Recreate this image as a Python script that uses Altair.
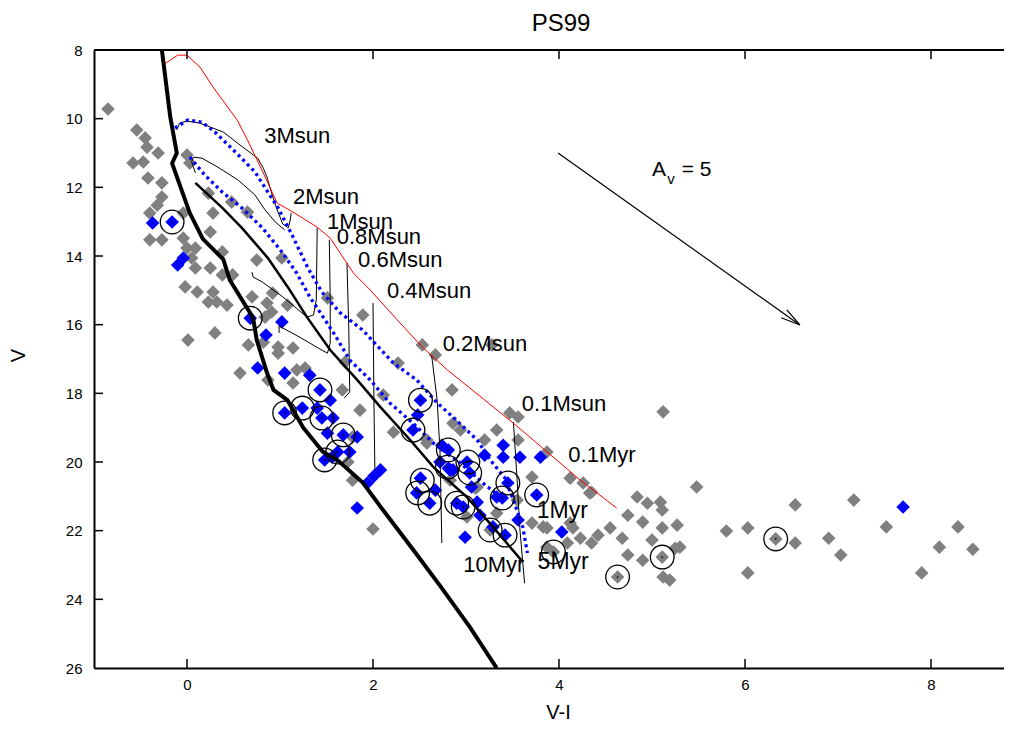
import altair as alt
import pandas as pd

# ---------------- data (V-I, V) ----------------
gray_x = [-0.85, -0.54, -0.45, -0.43, -0.31, -0.58, -0.47, -0.42, -0.27, -0.27, -0.32, -0.40, -0.40, -0.27,
          -0.04, 0.0, 0.03, 0.23, 0.28, 0.25, -0.04, 0.0, 0.09, 0.05, 0.09, 0.25, 0.38, 0.49, 0.38, -0.02,
          0.11, 0.48, 0.65, 0.75, 1.02, 0.28, 0.23, 0.32, 0.43, 0.01, 0.30, 0.70, 0.86, 0.92, 0.91, 1.08,
          0.66, 0.82, 0.98, 0.98, 1.14, 0.57, 0.87, 1.18, 1.27, 1.14, 1.67, 1.86, 1.89, 1.73, 1.51, 0.84,
          1.70, 1.78, 2.00, 2.53, 2.67, 2.27, 2.85, 2.11, 3.47, 3.56, 3.33, 3.20, 3.71, 3.87, 2.58, 2.86,
          2.94, 2.22, 3.12, 1.78, 3.28, 5.12, 3.56, 4.12, 4.35, 4.84, 4.95, 5.09, 5.11, 4.74, 4.90, 5.27,
          5.11, 4.55, 4.68, 5.00, 5.25, 4.74, 4.90, 5.11, 5.12, 5.19, 4.63, 4.35, 4.23, 4.09, 3.87, 4.15,
          4.42, 5.48, 5.80, 6.03, 6.03, 6.33, 6.54, 6.54, 6.90, 7.03, 7.17, 7.52, 7.90, 8.09, 8.29, 8.45,
          5.30, 4.26, 4.33, 3.55, 3.83, 4.12, 3.87, 3.33, 3.71, 3.10, 2.83, 3.01, 3.94, 3.26, 2.58]
gray_y = [9.72, 10.33, 10.56, 10.83, 11.00, 11.29, 11.26, 11.73, 11.87, 12.28, 12.52, 12.75, 13.53, 13.53,
          12.75, 11.06, 11.29, 12.17, 12.75, 13.30, 13.48, 13.77, 13.77, 14.06, 14.35, 14.35, 14.55, 14.55, 13.88, 14.90,
          15.05, 12.43, 12.72, 14.12, 14.06, 15.05, 15.34, 15.34, 15.43, 16.45, 16.24, 15.19, 15.37, 15.08, 15.63, 15.43,
          16.59, 16.51, 16.65, 16.83, 16.68, 17.41, 17.61, 17.32, 17.26, 17.70, 17.90, 18.49, 15.72, 20.00, 15.22, 15.78,
          17.09, 20.53, 21.95, 16.59, 16.88, 17.12, 17.90, 18.05, 18.57, 18.69, 19.07, 19.36, 20.44, 19.71, 19.36, 18.87,
          19.07, 19.13, 20.73, 19.27, 16.59, 18.54, 19.36, 20.47, 20.88, 21.02, 21.20, 21.17, 21.40, 21.55, 21.75, 21.84,
          21.92, 21.92, 22.22, 22.27, 22.51, 22.71, 22.86, 22.77, 23.35, 23.44, 23.35, 22.36, 22.22, 22.36, 21.92, 21.92,
          22.13, 20.73, 22.01, 21.92, 23.23, 22.24, 21.25, 22.36, 22.22, 22.71, 21.11, 21.89, 23.23, 22.48, 21.89, 22.54,
          22.48, 20.61, 20.90, 21.11, 21.89, 21.78, 22.48, 21.49, 21.78, 20.76, 20.53, 21.60, 22.62, 21.98, 19.45]

blue_x = [-0.37, -0.16, -0.10, -0.04, 0.68, 1.02, 0.85, 0.76, 1.05, 1.32, 1.43, 1.54, 1.24, 1.05, 1.40,
          1.45, 1.57, 1.51, 1.68, 1.83, 1.75, 1.62, 1.48, 1.56, 1.94, 2.01, 2.08, 1.83, 2.51, 2.48, 2.43,
          2.74, 2.81, 2.72, 2.83, 3.01, 3.40, 3.58, 3.40, 2.51, 2.47, 2.61, 2.81, 2.86, 3.04, 2.90, 2.97,
          3.12, 3.45, 3.39, 3.76, 3.56, 3.42, 3.15, 3.29, 2.99, 4.03, 3.80, 7.70, 3.06, 2.67, 3.20, 3.33]
blue_y = [13.04, 13.01, 14.26, 14.06, 15.81, 15.92, 16.30, 17.26, 17.41, 17.47, 17.90, 18.20, 18.43, 18.57, 18.43,
          18.72, 18.72, 19.16, 19.21, 19.27, 19.71, 19.71, 19.94, 19.86, 20.61, 20.41, 20.23, 21.34, 18.20, 18.63, 19.07,
          19.51, 19.65, 20.00, 20.23, 20.00, 19.51, 19.86, 19.86, 20.47, 20.90, 21.20, 20.18, 20.23, 20.32, 21.20, 21.31,
          21.17, 20.61, 21.05, 20.96, 21.69, 22.13, 21.55, 21.89, 22.19, 22.04, 19.86, 21.31, 20.73, 20.82, 19.80, 21.02]

circ_x = [-0.16, 0.68, 1.43, 1.24, 1.05, 1.45, 1.68, 1.62, 1.48, 2.51, 2.43, 2.81, 2.80, 3.02, 3.04,
          2.53, 2.48, 2.61, 2.90, 2.97, 3.45, 3.39, 3.76, 3.26, 3.42, 3.94, 4.63, 5.11, 6.33]
circ_y = [13.01, 15.81, 17.90, 18.43, 18.57, 18.72, 19.21, 19.71, 19.94, 18.20, 19.07, 19.65, 20.15, 20.00, 20.32,
          20.53, 20.90, 21.20, 21.20, 21.31, 20.61, 21.05, 20.96, 21.98, 22.13, 22.62, 23.35, 22.77, 22.24]

# ZAMS (thick black)
zams_x = [-0.27, -0.18, -0.11, -0.16, 0.03, 0.17, 0.39, 0.46, 0.71, 0.75, 0.86, 0.93, 1.08, 1.25, 1.46,
          1.62, 1.89, 2.08, 2.43, 2.72, 3.04, 3.33]
zams_y = [8.0, 9.95, 11.0, 11.3, 12.75, 13.5, 14.1, 14.7, 15.8, 16.45, 17.4, 17.9, 18.2, 19.0, 19.7,
          19.95, 20.6, 21.3, 22.55, 23.6, 24.8, 26.0]
# 0.1 Myr isochrone (red)
iso01_x = [-0.26, -0.10, 0.0, 0.14, 0.28, 0.54, 0.65, 0.82, 0.97, 1.14, 1.40, 1.54, 1.79, 1.97, 2.26,
           2.53, 2.80, 3.51, 4.23, 4.62]
iso01_y = [8.44, 8.15, 8.15, 8.50, 9.08, 10.04, 10.62, 11.58, 12.46, 12.72, 13.16, 13.48, 14.50, 14.99, 15.86,
           16.65, 17.32, 18.87, 20.53, 21.34]
# dotted blue isochrones
isoA_x = [-0.13, 0.01, 0.16, 0.30, 0.52, 0.73, 0.87, 0.98, 1.13, 1.30, 1.45, 1.65, 1.89, 2.22, 2.47,
          2.69, 2.86, 3.12, 3.26, 3.42, 3.51, 3.61, 3.66]
isoA_y = [10.27, 10.04, 10.10, 10.39, 10.97, 11.55, 12.14, 12.60, 13.39, 14.35, 15.05, 15.66, 16.16, 17.12, 17.61,
          18.28, 18.69, 19.36, 19.94, 20.47, 21.11, 21.89, 22.65]
isoB_x = [0.03, 0.19, 0.38, 0.59, 0.81, 1.02, 1.18, 1.32, 1.45, 1.59, 1.75, 1.97, 2.18, 2.43, 2.65,
          2.94, 3.18, 3.37]
isoB_y = [11.12, 11.64, 12.14, 12.60, 13.18, 13.88, 14.50, 15.19, 15.72, 16.30, 17.03, 17.61, 18.28, 18.87, 19.45,
          20.03, 20.61, 21.02]
# medium black isochrone
iso5_x = [0.09, 0.38, 0.59, 0.87, 1.09, 1.29, 1.54, 1.83, 2.08, 2.40, 2.65, 3.01, 3.29, 3.61]
iso5_y = [11.87, 12.60, 13.18, 14.06, 14.93, 15.78, 16.74, 17.61, 18.40, 19.36, 20.15, 21.02, 21.89, 22.91]

# evolutionary tracks (thin black)
tracks = {
    "3": ([-0.11, -0.08, 0.0, 0.14, 0.39, 0.60, 0.76, 0.82, 0.86, 0.91, 0.97, 1.03, 1.09, 1.11, 1.12],
          [10.33, 10.13, 10.07, 10.13, 10.39, 10.83, 11.15, 11.44, 11.70, 12.17, 12.66, 13.07, 13.18, 12.95, 12.75]),
    "2": ([0.09, 0.05, 0.07, 0.16, 0.33, 0.55, 0.73, 0.84, 0.95, 1.05],
          [11.58, 11.26, 11.12, 11.15, 11.41, 11.79, 12.22, 12.66, 13.01, 13.24]),
    "1": ([1.40, 1.39, 1.36, 1.29, 1.03, 0.81, 0.71, 0.70],
          [13.18, 15.28, 15.72, 15.78, 15.19, 14.76, 14.61, 14.47]),
    "0.8": ([1.53, 1.54, 1.54, 1.51, 1.41, 1.19, 0.99, 0.99],
            [13.53, 15.28, 16.53, 16.83, 16.68, 16.33, 16.04, 16.24]),
    "0.6": ([1.72, 1.74, 1.75, 1.69], [14.20, 16.16, 17.96, 18.14]),
    "0.4": ([2.00, 2.01, 2.02], [15.37, 18.20, 20.23]),
    "0.2": ([2.63, 2.69, 2.72, 2.74], [16.88, 18.20, 19.65, 22.36]),
    "0.1": ([3.51, 3.55, 3.58, 3.63], [18.84, 20.53, 21.98, 23.53]),
}

# extinction vector A_V = 5
arrow_x = [3.99, 6.59]
arrow_y = [11.00, 16.01]
head_x = [6.45, 6.59, 6.39]
head_y = [15.57, 16.01, 15.80]

lab_text = ["3Msun", "2Msun", "1Msun", "0.8Msun", "0.6Msun", "0.4Msun", "0.2Msun", "0.1Msun", "0.1Myr", "10Myr"]
lab_x = [0.83, 1.14, 1.505, 1.61, 1.84, 2.15, 2.75, 3.60, 4.10, 2.97]
lab_y = [10.51, 12.28, 13.01, 13.45, 14.12, 15.02, 16.56, 18.31, 19.80, 23.00]
big_text = ["1Myr", "5Myr"]
big_x = [3.76, 3.77]
big_y = [21.43, 22.91]

av_text = ["A", "v", "= 5"]
av_x = [5.00, 5.165, 5.32]
av_y = [11.50, 11.75, 11.50]

x_ticks = [0, 2, 4, 6, 8]
y_ticks = [8, 10, 12, 14, 16, 18, 20, 22, 24, 26]

# ---------------- chart ----------------
FONT = "Liberation Sans"
W, H = 910, 618
xs = alt.Scale(domain=[-1, -1 + W / 93.0], nice=False, zero=False)
ys = alt.Scale(domain=[8, 26], reverse=True, nice=False, zero=False)

AXX = alt.Axis(
    values=x_ticks, title="V-I", ticks=False, tickSize=0, labelPadding=9, labelFontSize=15,
    labelFont=FONT, titleFont=FONT, titleFontSize=20, titleFontWeight="normal", domainWidth=2,
    domainColor="black", labelColor="black", titleColor="black", grid=False,
    titleX=464, titleY=44, titleBaseline="middle", titleAlign="center")
AXY = alt.Axis(
    values=y_ticks, title="V", ticks=False, tickSize=0, labelPadding=12, labelFontSize=15,
    labelFont=FONT, titleFont=FONT, titleFontSize=20, titleFontWeight="normal", domainWidth=2,
    domainColor="black", labelColor="black", titleColor="black", grid=False,
    titleX=-76, titleY=305, titleBaseline="middle", titleAlign="center")


def X(field="x"):
    return alt.X(f"{field}:Q", scale=xs, axis=AXX)


def Y(field="y"):
    return alt.Y(f"{field}:Q", scale=ys, axis=AXY)


def ldf(xv, yv, name="a"):
    return pd.DataFrame({"x": xv, "y": yv, "o": list(range(len(xv))), "name": name})


gray = alt.Chart(pd.DataFrame({"x": gray_x, "y": gray_y})).mark_point(
    shape="diamond", filled=True, size=185, color="#808080", opacity=1
).encode(x=X(), y=Y())

blue = alt.Chart(pd.DataFrame({"x": blue_x, "y": blue_y})).mark_point(
    shape="diamond", filled=True, size=185, color="#0000ff", opacity=1
).encode(x=X(), y=Y())

circles = alt.Chart(pd.DataFrame({"x": circ_x, "y": circ_y})).mark_point(
    shape="circle", filled=False, size=560, color="black", strokeWidth=1.3, opacity=1
).encode(x=X(), y=Y())
dots = alt.Chart(pd.DataFrame({"x": circ_x, "y": circ_y})).mark_point(
    shape="circle", filled=True, size=3, color="black", opacity=1
).encode(x=X(), y=Y())


def line(df, **kw):
    return alt.Chart(df).mark_line(clip=True, **kw).encode(
        x=X(), y=Y(), order="o:Q", detail="name:N")


track_df = pd.concat([ldf(v[0], v[1], k) for k, v in tracks.items()])

zams = line(ldf(zams_x, zams_y), color="black", strokeWidth=4)
iso01 = line(ldf(iso01_x, iso01_y), color="#ff0000", strokeWidth=1)
isoA = line(ldf(isoA_x, isoA_y), color="#0000ff", strokeWidth=3.3, strokeDash=[3, 3.5], strokeCap="butt")
isoB = line(ldf(isoB_x, isoB_y), color="#0000ff", strokeWidth=3.3, strokeDash=[3, 3.5], strokeCap="butt")
iso5 = line(ldf(iso5_x, iso5_y), color="black", strokeWidth=2.5)
trk = line(track_df, color="black", strokeWidth=1)
arrow = line(pd.concat([ldf(arrow_x, arrow_y, "s"), ldf(head_x, head_y, "h")]), color="black", strokeWidth=1.2)

labels = alt.Chart(pd.DataFrame({"t": lab_text, "x": lab_x, "y": lab_y})).mark_text(
    align="left", baseline="middle", fontSize=22, font=FONT, color="black"
).encode(x=X(), y=Y(), text="t:N")
big = alt.Chart(pd.DataFrame({"t": big_text, "x": big_x, "y": big_y})).mark_text(
    align="left", baseline="middle", fontSize=23, font=FONT, color="black"
).encode(x=X(), y=Y(), text="t:N")

av_df = pd.DataFrame({"t": av_text, "x": av_x, "y": av_y})
av_a = alt.Chart(av_df.iloc[[0, 2]]).mark_text(
    align="left", baseline="middle", fontSize=21, font=FONT, color="black"
).encode(x=X(), y=Y(), text="t:N")
av_v = alt.Chart(av_df.iloc[[1]]).mark_text(
    align="left", baseline="middle", fontSize=15, font=FONT, color="black"
).encode(x=X(), y=Y(), text="t:N")

# frame: top border and inward ticks
top_line = alt.Chart(pd.DataFrame({"a": [0]})).mark_rule(color="black", strokeWidth=2).encode(
    x=alt.value(0), x2=alt.value(W), y=alt.value(0))
bt = alt.Chart(pd.DataFrame({"x": x_ticks})).mark_rule(color="black", strokeWidth=1.5).encode(
    x=X(), y=alt.value(H), y2=alt.value(H - 9))
tt = alt.Chart(pd.DataFrame({"x": x_ticks})).mark_rule(color="black", strokeWidth=1.5).encode(
    x=X(), y=alt.value(0), y2=alt.value(9))
lt = alt.Chart(pd.DataFrame({"y": y_ticks[1:-1]})).mark_rule(color="black", strokeWidth=1.5).encode(
    y=Y(), x=alt.value(0), x2=alt.value(9))

chart = alt.layer(
    gray, blue, trk, iso01, isoA, isoB, iso5, zams, circles, dots, arrow,
    labels, big, av_a, av_v, top_line, bt, tt, lt
).properties(
    width=W, height=H,
    title=alt.TitleParams("PS99", fontSize=24, font=FONT, fontWeight="normal", color="black",
                          dx=12, offset=7),
    autosize=alt.AutoSizeParams(type="none"),
    padding={"left": 86, "top": 42, "right": 0, "bottom": 56},
).configure_view(stroke=None).configure(font=FONT)

chart.save("out.html", embed_options={"renderer": "svg", "actions": False})
